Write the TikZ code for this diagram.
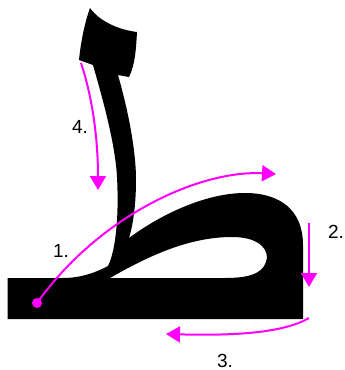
\documentclass[tikz,border=0pt]{standalone}
\usepackage{fontspec}
\setmainfont{Liberation Sans}
\usetikzlibrary{arrows.meta}
\definecolor{mag}{RGB}{255,0,255}
\tikzset{
  guide/.style={draw=mag, line width=2pt, -{Triangle[length=14pt,width=16pt]}},
  lbl/.style={anchor=base, inner sep=0pt, font=\fontsize{19}{19}\selectfont},
}
\begin{document}
\begin{tikzpicture}[x=1pt,y=-1pt]
\useasboundingbox (0,0) rectangle (345,370);
% letter shape
\fill[black, even odd rule]
  (7.5,319) -- (7.5,278) -- (63,278)
  .. controls (80,278) and (95,273) .. (108,266)
  .. controls (116,250) and (119,215) .. (117,177)
  .. controls (115,140) and (100,90) .. (93,65)
  -- (79,60)
  .. controls (81,40) and (85,22) .. (90,8)
  .. controls (100,22) and (120,30) .. (137,32)
  .. controls (136,50) and (135,65) .. (129,77)
  -- (118,75)
  .. controls (128,110) and (136,150) .. (136,180)
  .. controls (136,205) and (133,225) .. (129,238)
  .. controls (160,215) and (205,193) .. (245,193)
  .. controls (280,193) and (303,210) .. (303,245)
  -- (303,319) -- cycle
  (110,278) .. controls (150,255) and (190,237) .. (232,237)
  .. controls (262,237) and (270,252) .. (266,262)
  .. controls (262,275) and (245,278) .. (225,278) -- cycle;
% guides
\coordinate (s1) at (37,303);
\coordinate (e1) at (276,174);
\coordinate (s2) at (309,223);
\coordinate (e2) at (309,287);
\coordinate (s3) at (309,318);
\coordinate (e3) at (166,334);
\coordinate (s4) at (81,63);
\coordinate (e4) at (98,190);
\fill[mag] (s1) circle (5);
\draw[guide] (s1) .. controls (100,215) and (200,170) .. (e1);
\draw[guide] (s2) -- (e2);
\draw[guide] (s3) .. controls (285,332) and (240,336) .. (e3);
\draw[guide] (s4) .. controls (95,105) and (98,150) .. (e4);
% labels
\node[lbl] (l1) at (61,257) {1.};
\node[lbl] (l2) at (336,238) {2.};
\node[lbl] (l3) at (225,367) {3.};
\node[lbl] (l4) at (80,133) {4.};
\end{tikzpicture}
\end{document}
